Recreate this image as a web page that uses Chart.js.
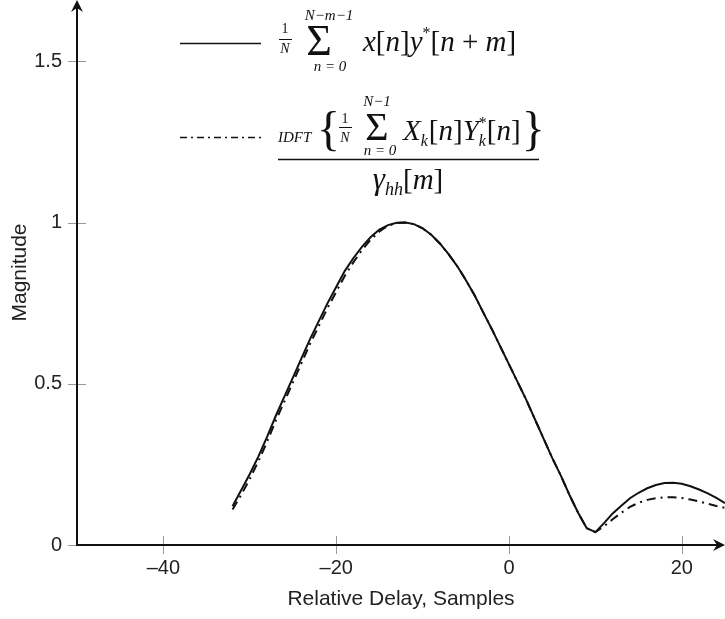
<!DOCTYPE html>
<html>
<head>
<meta charset="utf-8">
<script src="https://cdn.jsdelivr.net/npm/chart.js@4.4.1/dist/chart.umd.min.js"></script>
<style>
  html, body { margin: 0; padding: 0; background: #fff; }
  #wrap { width: 725px; height: 619px; }
</style>
</head>
<body>
<div id="wrap"><canvas id="chCorr" width="725" height="619"></canvas></div>
<script>
// relative delay (samples) and the two normalised correlation curves
const delay = [-32, -31, -30, -29, -28, -27, -26, -25, -24, -23, -22, -21, -20, -19, -18, -17, -16, -15, -14, -13,
  -12, -11, -10, -9, -8, -7, -6, -5, -4, -3, -2, -1, 0, 1, 2, 3, 4, 5, 6, 7,
  8, 9, 10, 11, 12, 13, 14, 15, 16, 17, 18, 19, 20, 21, 22, 23, 24, 25];
const directCorr = [0.12, 0.17, 0.22, 0.275, 0.335, 0.40, 0.46, 0.52, 0.58, 0.64, 0.695, 0.75, 0.80, 0.85, 0.89, 0.925, 0.955, 0.978, 0.992, 0.999,
  1.0, 0.995, 0.982, 0.962, 0.935, 0.902, 0.865, 0.822, 0.775, 0.722, 0.67, 0.615, 0.56, 0.505, 0.45, 0.39, 0.33, 0.27, 0.215, 0.155,
  0.10, 0.052, 0.04, 0.068, 0.098, 0.122, 0.145, 0.162, 0.176, 0.186, 0.192, 0.193, 0.19, 0.182, 0.172, 0.16, 0.146, 0.13];
const idftCorr = [0.11, 0.155, 0.205, 0.26, 0.32, 0.385, 0.445, 0.505, 0.565, 0.625, 0.68, 0.735, 0.785, 0.835, 0.877, 0.915, 0.947, 0.972, 0.99, 0.998,
  1.0, 0.995, 0.982, 0.962, 0.935, 0.902, 0.865, 0.822, 0.775, 0.722, 0.67, 0.615, 0.56, 0.505, 0.45, 0.39, 0.33, 0.27, 0.215, 0.155,
  0.10, 0.052, 0.04, 0.058, 0.08, 0.10, 0.118, 0.131, 0.14, 0.145, 0.148, 0.148, 0.146, 0.141, 0.135, 0.128, 0.121, 0.115];
const xTicks = [-40, -20, 0, 20];
const yTicks = [0, 0.5, 1, 1.5];
const xRange = [-50, 25];
const yRange = [0, 1.69];

const SANS = '"Liberation Sans", Arial, Helvetica, sans-serif';
const SERIF = '"Liberation Serif", "DejaVu Serif", serif';
const it = n => 'italic ' + n + 'px ' + SERIF;
const rm = n => n + 'px ' + SERIF;
const INK = '#111';

// draws text runs one after another on a shared baseline
function runs(ctx, x, y, parts) {
  parts.forEach(p => {
    ctx.font = p.f;
    ctx.fillText(p.t, x, y + (p.dy || 0));
    if (!p.keep) x += ctx.measureText(p.t).width + (p.gap || 0);
  });
  return x;
}
function runsWidth(ctx, parts) {
  let w = 0;
  parts.forEach(p => { ctx.font = p.f; if (!p.keep) w += ctx.measureText(p.t).width + (p.gap || 0); });
  return w;
}
function centred(ctx, t, f, cx, y) {
  ctx.font = f;
  ctx.textAlign = 'center';
  ctx.fillText(t, cx, y);
  ctx.textAlign = 'left';
}
function hline(ctx, x0, x1, y, w, dash) {
  ctx.save();
  ctx.lineWidth = w;
  ctx.setLineDash(dash || []);
  ctx.beginPath(); ctx.moveTo(x0, y); ctx.lineTo(x1, y); ctx.stroke();
  ctx.restore();
}

const axesPlugin = {
  id: 'axesPlugin',
  afterDatasetsDraw(chart) {
    const { ctx, chartArea: a, scales: { x, y } } = chart;
    ctx.save();
    // tick marks crossing the axes
    ctx.strokeStyle = '#9a9a9a';
    ctx.lineWidth = 1;
    x.ticks.forEach(t => {
      const px = Math.round(x.getPixelForValue(t.value)) + 0.5;
      ctx.beginPath(); ctx.moveTo(px, a.bottom - 9); ctx.lineTo(px, a.bottom + 9); ctx.stroke();
    });
    y.ticks.forEach(t => {
      const py = Math.round(y.getPixelForValue(t.value)) + 0.5;
      ctx.beginPath(); ctx.moveTo(a.left - 9, py); ctx.lineTo(a.left + (t.value === 0 ? 0 : 9), py); ctx.stroke();
    });
    // axis lines with arrow heads
    ctx.strokeStyle = INK; ctx.fillStyle = INK; ctx.lineWidth = 2;
    ctx.beginPath();
    ctx.moveTo(a.left, a.top + 6); ctx.lineTo(a.left, a.bottom); ctx.lineTo(a.right - 6, a.bottom);
    ctx.stroke();
    ctx.beginPath();
    ctx.moveTo(a.left, a.top); ctx.lineTo(a.left - 6, a.top + 12); ctx.lineTo(a.left, a.top + 8); ctx.lineTo(a.left + 6, a.top + 12);
    ctx.closePath(); ctx.fill();
    ctx.beginPath();
    ctx.moveTo(a.right, a.bottom); ctx.lineTo(a.right - 12, a.bottom - 6); ctx.lineTo(a.right - 8, a.bottom); ctx.lineTo(a.right - 12, a.bottom + 6);
    ctx.closePath(); ctx.fill();
    ctx.restore();
  }
};

const mathLegend = {
  id: 'mathLegend',
  afterDraw(chart) {
    const ctx = chart.ctx;
    ctx.save();
    ctx.fillStyle = INK; ctx.strokeStyle = INK;
    ctx.textBaseline = 'alphabetic';

    // row 1: (1/N) sum_{n=0}^{N-m-1} x[n] y*[n+m]
    hline(ctx, 180, 261, 43.5, 1.6);
    centred(ctx, '1', rm(14), 285, 33);
    hline(ctx, 279, 292, 39.5, 1);
    centred(ctx, 'N', it(14), 285, 53);
    centred(ctx, 'Σ', rm(44), 319, 55);
    centred(ctx, 'N−m−1', it(15), 329, 20);
    centred(ctx, 'n = 0', it(15), 330, 71);
    runs(ctx, 363, 51, [
      { t: 'x', f: it(29) }, { t: '[', f: rm(29) }, { t: 'n', f: it(29) }, { t: ']', f: rm(29) },
      { t: 'y', f: it(29) }, { t: '*', f: rm(16), dy: -13 }, { t: '[', f: rm(29) }, { t: 'n', f: it(29) },
      { t: ' + ', f: rm(29) }, { t: 'm', f: it(29) }, { t: ']', f: rm(29) }
    ]);

    // row 2: IDFT{ (1/N) sum X_k[n] Y*_k[n] } / gamma_hh[m]
    hline(ctx, 180, 261, 137.5, 1.6, [7, 4, 2, 4]);
    runs(ctx, 278, 142, [{ t: 'IDFT', f: it(15) }]);
    runs(ctx, 317, 145, [{ t: '{', f: rm(48) }]);
    centred(ctx, '1', rm(14), 345, 123);
    hline(ctx, 339, 352, 127.5, 1);
    centred(ctx, 'N', it(14), 345, 142);
    centred(ctx, 'Σ', rm(40), 377, 140);
    centred(ctx, 'N−1', it(15), 377, 106);
    centred(ctx, 'n = 0', it(15), 380, 155);
    const xe = runs(ctx, 403, 140, [
      { t: 'X', f: it(29) }, { t: 'k', f: it(16), dy: 6, gap: 1 }, { t: '[', f: rm(29) }, { t: 'n', f: it(29) }, { t: ']', f: rm(29) },
      { t: 'Y', f: it(29) }, { t: '*', f: rm(16), dy: -12, keep: true }, { t: 'k', f: it(16), dy: 6, gap: 1 },
      { t: '[', f: rm(29) }, { t: 'n', f: it(29) }, { t: ']', f: rm(29) }
    ]);
    runs(ctx, xe + 1, 145, [{ t: '}', f: rm(48) }]);
    hline(ctx, 278, 539, 159.5, 1.3);
    const den = [
      { t: 'γ', f: it(31) }, { t: 'hh', f: it(18), dy: 6 }, { t: '[', f: rm(29) }, { t: 'm', f: it(29) }, { t: ']', f: rm(29) }
    ];
    runs(ctx, 408 - runsWidth(ctx, den) / 2, 189, den);
    ctx.restore();
  }
};

new Chart(document.getElementById('chCorr'), {
  type: 'line',
  data: {
    datasets: [
      {
        label: 'direct',
        data: delay.map((d, i) => ({ x: d, y: directCorr[i] })),
        borderColor: INK, borderWidth: 2, pointRadius: 0, tension: 0, fill: false, order: 2
      },
      {
        label: 'idft',
        data: delay.map((d, i) => ({ x: d, y: idftCorr[i] })),
        borderColor: INK, borderWidth: 2, pointRadius: 0, tension: 0, fill: false,
        borderDash: [9, 5, 2, 5], order: 1
      }
    ]
  },
  options: {
    responsive: false,
    animation: false,
    layout: { padding: 0 },
    plugins: { legend: { display: false }, tooltip: { enabled: false } },
    scales: {
      x: {
        type: 'linear', min: xRange[0], max: xRange[1],
        afterBuildTicks: s => { s.ticks = xTicks.map(v => ({ value: v })); },
        afterFit: s => { s.height = 74; s.paddingLeft = 0; s.paddingRight = 0; },
        grid: { display: false, drawTicks: false },
        border: { display: false },
        ticks: {
          color: '#222', padding: 11, maxRotation: 0, autoSkip: false,
          font: { family: SANS, size: 20 },
          callback: v => (v < 0 ? '–' + Math.abs(v) : String(v))
        },
        title: {
          display: true, text: 'Relative Delay, Samples', color: '#222',
          font: { family: SANS, size: 21 }, padding: { top: 0, bottom: 7 }
        }
      },
      y: {
        type: 'linear', min: yRange[0], max: yRange[1],
        afterBuildTicks: s => { s.ticks = yTicks.map(v => ({ value: v })); },
        afterFit: s => { s.width = 77; s.paddingTop = 0; s.paddingBottom = 0; },
        grid: { display: false, drawTicks: false },
        border: { display: false },
        ticks: {
          color: '#222', padding: 15, autoSkip: false,
          font: { family: SANS, size: 20 },
          callback: v => String(v)
        },
        title: {
          display: true, text: 'Magnitude', color: '#222',
          font: { family: SANS, size: 21 }, padding: { top: 8, bottom: 0 }
        }
      }
    }
  },
  plugins: [axesPlugin, mathLegend]
});
</script>
</body>
</html>
